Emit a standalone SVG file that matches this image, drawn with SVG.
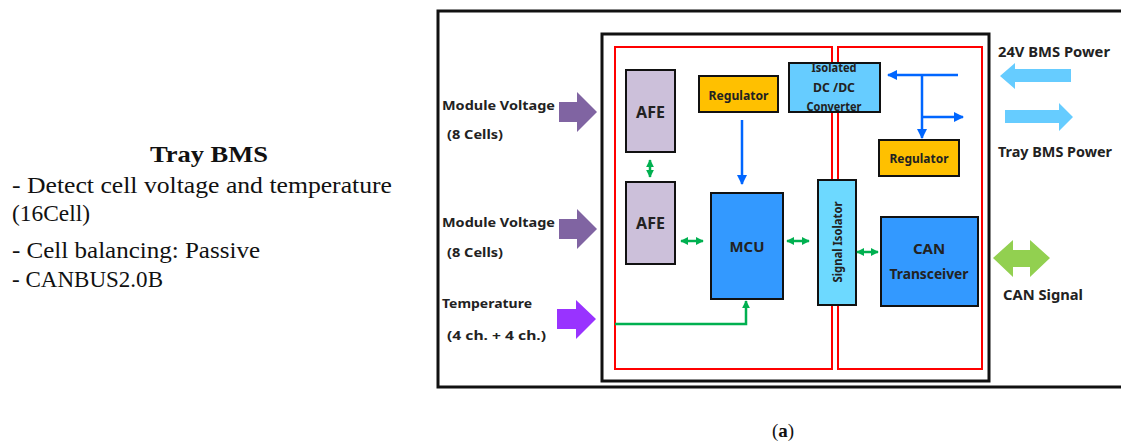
<svg xmlns="http://www.w3.org/2000/svg" width="1121" height="443" viewBox="0 0 1121 443">
<style>
.t{font-family:"Noto Sans","Open Sans",sans-serif;font-weight:bold;fill:#222}
.s{font-family:"Liberation Serif","DejaVu Serif",serif;font-size:23px;fill:#111}
.box{stroke:#111;stroke-width:2}
.red{fill:none;stroke:#ff0000;stroke-width:2}
.blue{stroke:#0066ff;stroke-width:2.5;fill:none}
.green{stroke:#00b050;stroke-width:2.5;fill:none}
</style>
<defs>
<marker id="ab" viewBox="0 0 10 10" refX="9" refY="5" markerWidth="4" markerHeight="4" orient="auto-start-reverse"><path d="M0,0L10,5L0,10z" fill="#0066ff"/></marker>
<marker id="ag" viewBox="0 0 10 10" refX="9" refY="5" markerWidth="3.2" markerHeight="3.2" orient="auto-start-reverse"><path d="M0,0L10,5L0,10z" fill="#00b050"/></marker>
</defs>
<rect width="1121" height="443" fill="#fff"/>

<g id="description">
<text class="s" x="150" y="162" font-weight="bold" font-size="25" textLength="118" lengthAdjust="spacingAndGlyphs">Tray BMS</text>
<text class="s" x="12" y="193" textLength="380" lengthAdjust="spacingAndGlyphs">- Detect cell voltage and temperature</text>
<text class="s" x="12" y="221" textLength="78" lengthAdjust="spacingAndGlyphs">(16Cell)</text>
<text class="s" x="12" y="258" textLength="248" lengthAdjust="spacingAndGlyphs">- Cell balancing: Passive</text>
<text class="s" x="12" y="287" textLength="151" lengthAdjust="spacingAndGlyphs">- CANBUS2.0B</text>
</g>

<g id="frames">
<rect x="438" y="11" width="700" height="376" fill="none" stroke="#111" stroke-width="3"/>
<rect x="602" y="34" width="387" height="347" fill="none" stroke="#111" stroke-width="3"/>
<rect class="red" x="615" y="47" width="217" height="322"/>
<rect class="red" x="838" y="47" width="144" height="322"/>
</g>

<g id="inputs">
<text class="t" x="442" y="110" font-size="13" textLength="113" lengthAdjust="spacingAndGlyphs">Module Voltage</text>
<text class="t" x="447" y="139" font-size="13" textLength="56" lengthAdjust="spacingAndGlyphs">(8 Cells)</text>
<path d="M559,102H577V92L597,112L577,132V122H559z" fill="#8064a2"/>
<text class="t" x="442" y="227" font-size="13" textLength="113" lengthAdjust="spacingAndGlyphs">Module Voltage</text>
<text class="t" x="447" y="257" font-size="13" textLength="56" lengthAdjust="spacingAndGlyphs">(8 Cells)</text>
<path d="M559,219H577V209L597,229L577,249V239H559z" fill="#8064a2"/>
<text class="t" x="442" y="308" font-size="13" textLength="90" lengthAdjust="spacingAndGlyphs">Temperature</text>
<text class="t" x="447" y="340" font-size="13" textLength="99" lengthAdjust="spacingAndGlyphs">(4 ch. + 4 ch.)</text>
<path d="M557,309H576V300L596,319L576,339V329H557z" fill="#9933ff"/>
</g>

<g id="afe1"><rect class="box" x="626" y="70" width="49" height="82" fill="#ccc0da"/><text class="t" x="650.5" y="118" font-size="16" text-anchor="middle">AFE</text></g>
<g id="afe2"><rect class="box" x="626" y="182" width="49" height="82" fill="#ccc0da"/><text class="t" x="650.5" y="229" font-size="16" text-anchor="middle">AFE</text></g>
<g id="regulator1"><rect class="box" x="699" y="76" width="79" height="36" fill="#ffc000"/><text class="t" x="738.5" y="100" font-size="12" text-anchor="middle" textLength="60" lengthAdjust="spacingAndGlyphs">Regulator</text></g>
<g id="mcu"><rect class="box" x="711" y="193" width="72" height="106" fill="#3399ff"/><text class="t" x="747" y="252" font-size="15" text-anchor="middle" textLength="35" lengthAdjust="spacingAndGlyphs">MCU</text></g>
<g id="dcdc"><rect class="box" x="789" y="63" width="91" height="49" fill="#66ccff"/>
<text class="t" x="834" y="72" font-size="12" text-anchor="middle" textLength="45" lengthAdjust="spacingAndGlyphs">Isolated</text>
<text class="t" x="834" y="92" font-size="12" text-anchor="middle" textLength="42" lengthAdjust="spacingAndGlyphs">DC /DC</text>
<text class="t" x="834" y="111" font-size="12" text-anchor="middle" textLength="55" lengthAdjust="spacingAndGlyphs">Converter</text></g>
<g id="regulator2"><rect class="box" x="879" y="140" width="80" height="36" fill="#ffc000"/><text class="t" x="919" y="163" font-size="12" text-anchor="middle" textLength="59" lengthAdjust="spacingAndGlyphs">Regulator</text></g>
<g id="isolator"><rect class="box" x="818" y="180" width="38" height="125" fill="#6dd9ff"/><text class="t" font-size="12" text-anchor="middle" textLength="81" lengthAdjust="spacingAndGlyphs" transform="translate(842,242) rotate(-90)">Signal Isolator</text></g>
<g id="can"><rect class="box" x="881" y="217" width="97" height="89" fill="#3399ff"/>
<text class="t" x="929" y="254" font-size="15" text-anchor="middle">CAN</text>
<text class="t" x="929" y="279" font-size="15" text-anchor="middle" textLength="79" lengthAdjust="spacingAndGlyphs">Transceiver</text></g>

<g id="connectors">
<line class="blue" x1="742" y1="120" x2="742" y2="184" marker-end="url(#ab)"/>
<line class="blue" x1="958" y1="75" x2="888" y2="75" marker-end="url(#ab)"/>
<line class="blue" x1="922" y1="75" x2="922" y2="138" marker-end="url(#ab)"/>
<line class="blue" x1="922" y1="117" x2="963" y2="117" marker-end="url(#ab)"/>
<line class="green" x1="650" y1="160" x2="650" y2="177" marker-start="url(#ag)" marker-end="url(#ag)"/>
<line class="green" x1="681" y1="241" x2="703" y2="241" marker-start="url(#ag)" marker-end="url(#ag)"/>
<line class="green" x1="787" y1="241" x2="809" y2="241" marker-start="url(#ag)" marker-end="url(#ag)"/>
<line class="green" x1="857" y1="252" x2="878" y2="252" marker-start="url(#ag)" marker-end="url(#ag)"/>
<polyline class="green" points="615,324 746,324 746,301" marker-end="url(#ag)"/>
</g>

<g id="outputs">
<text class="t" x="998" y="57" font-size="14" textLength="112" lengthAdjust="spacingAndGlyphs">24V BMS Power</text>
<path d="M1071,69H1015V63L1000,76L1015,89V82H1071z" fill="#66ccff"/>
<path d="M1005,110H1059V103L1073,117L1059,131V123H1005z" fill="#66ccff"/>
<text class="t" x="998" y="157" font-size="14" textLength="114" lengthAdjust="spacingAndGlyphs">Tray BMS Power</text>
<path d="M993,258L1013,240V250H1030V240L1050,258L1030,277V267H1013V277z" fill="#92d050"/>
<text class="t" x="1003" y="300" font-size="14" textLength="80" lengthAdjust="spacingAndGlyphs">CAN Signal</text>
</g>

<text x="783" y="437" text-anchor="middle" font-family="Liberation Serif,serif" font-size="19" fill="#111">(<tspan font-weight="bold">a</tspan>)</text>
</svg>
